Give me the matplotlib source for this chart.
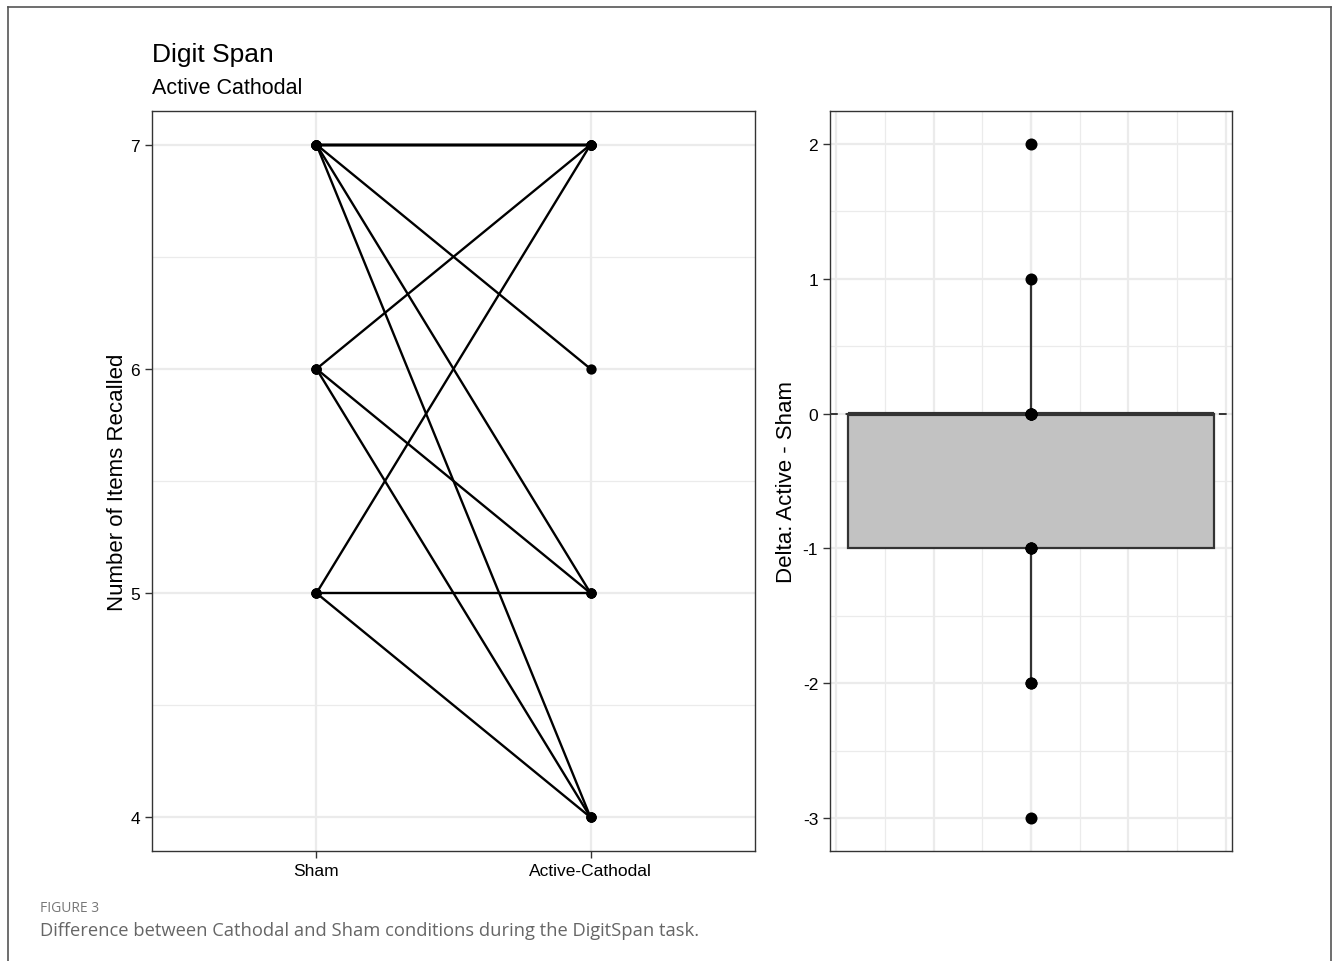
import numpy as np
import matplotlib
matplotlib.use("Agg")
import matplotlib.pyplot as plt
from matplotlib.lines import Line2D

plt.rcParams['font.family'] = ['Liberation Sans', 'DejaVu Sans']
plt.rcParams['axes.unicode_minus'] = False

# ---------------- Data ----------------
conditions = ["Sham", "Active-Cathodal"]
# paired scores per participant (sham, active)
sham_scores = [7, 7, 7, 7, 7, 7, 7, 6, 6, 6, 5, 5, 5]
active_scores = [7, 7, 7, 6, 5, 4, 7, 7, 5, 4, 7, 5, 4]
left_yticks = [4, 5, 6, 7]
right_yticks = [-3, -2, -1, 0, 1, 2]

title = "Digit Span"
subtitle = "Active Cathodal"
caption_head = "FIGURE 3"
caption_text = "Difference between Cathodal and Sham conditions during the DigitSpan task."

delta = np.array(active_scores) - np.array(sham_scores)

# ---------------- Figure ----------------
W, H = 1336, 962
fig = plt.figure(figsize=(W / 100, H / 100), dpi=100)


def px_axes(x0, y0, x1, y1):
    return fig.add_axes([x0 / W, 1 - y1 / H, (x1 - x0) / W, (y1 - y0) / H])


grid_major = "#EBEBEB"
frame_col = "#333333"

# outer frame
fig.add_artist(Line2D([8 / W, 8 / W], [0, 1 - 8 / H], color="#555555", lw=1.2))
fig.add_artist(Line2D([1331 / W, 1331 / W], [0, 1 - 8 / H], color="#555555", lw=1.2))
fig.add_artist(Line2D([8 / W, 1331 / W], [1 - 8 / H, 1 - 8 / H], color="#555555", lw=1.2))


def style_axes(ax):
    for s in ax.spines.values():
        s.set_color(frame_col)
        s.set_linewidth(1.0)
    ax.tick_params(colors=frame_col, length=5, width=1.0, labelsize=12.5, labelcolor="black")
    ax.set_axisbelow(True)


# ---------------- Left: paired lines ----------------
ax1 = px_axes(152, 112, 755, 852)
style_axes(ax1)
x_pos = np.arange(len(conditions))
for s, a in zip(sham_scores, active_scores):
    ax1.plot(x_pos, [s, a], color="black", lw=1.7, zorder=3)
ax1.scatter(np.zeros(len(sham_scores)), sham_scores, s=55, color="black", zorder=4, linewidths=0)
ax1.scatter(np.ones(len(active_scores)), active_scores, s=55, color="black", zorder=4, linewidths=0)
ax1.set_xlim(-0.6, 1.6)
ax1.set_ylim(3.85, 7.15)
ax1.set_xticks(x_pos)
ax1.set_xticklabels(conditions)
ax1.set_yticks(left_yticks)
ax1.set_yticks([4.5, 5.5, 6.5], minor=True)
ax1.tick_params(axis="y", which="minor", length=0)
ax1.grid(True, which="major", color=grid_major, lw=1.6)
ax1.grid(True, which="minor", axis="y", color=grid_major, lw=0.9)
ax1.set_ylabel("Number of Items Recalled", fontsize=16, labelpad=2)

# ---------------- Right: delta boxplot ----------------
ax2 = px_axes(830, 112, 1232, 852)
style_axes(ax2)
ax2.set_xlim(-0.4125, 0.4125)
ax2.set_ylim(-3.245, 2.245)
ax2.set_xticks([-0.4, -0.2, 0, 0.2, 0.4])
ax2.set_xticks([-0.3, -0.1, 0.1, 0.3], minor=True)
ax2.set_yticks(right_yticks)
ax2.set_yticks([-2.5, -1.5, -0.5, 0.5, 1.5], minor=True)
ax2.tick_params(axis="x", which="both", length=0, labelbottom=False)
ax2.tick_params(axis="y", which="minor", length=0)
ax2.grid(True, which="major", color=grid_major, lw=1.6)
ax2.grid(True, which="minor", color=grid_major, lw=0.9)
ax2.axhline(0, color=frame_col, lw=1.4, ls=(0, (4, 4)), zorder=1)
ax2.boxplot([delta], positions=[0], widths=0.75, whis=1.5, patch_artist=True,
            showfliers=False, showcaps=False,
            boxprops=dict(facecolor="#C2C2C2", edgecolor=frame_col, lw=1.6),
            medianprops=dict(color=frame_col, lw=3.0),
            whiskerprops=dict(color=frame_col, lw=1.6), zorder=2)
ax2.scatter(np.zeros(len(delta)), delta, s=75, color="black", zorder=4, linewidths=0)
ax2.set_ylabel("Delta: Active - Sham", fontsize=16, labelpad=4)

# ---------------- Titles / caption ----------------
fig.text(152 / W, 1 - 55 / H, title, fontsize=19, va="center", ha="left")
fig.text(152 / W, 1 - 89 / H, subtitle, fontsize=15.5, va="center", ha="left")
fig.text(40 / W, 1 - 908 / H, caption_head, fontsize=10, color="#777777",
         family=["Open Sans", "DejaVu Sans"], va="center", ha="left")
fig.text(40 / W, 1 - 931 / H, caption_text, fontsize=13.2, color="#666666",
         family=["Open Sans", "DejaVu Sans"], va="center", ha="left")

fig.savefig("out.png", dpi=100)
